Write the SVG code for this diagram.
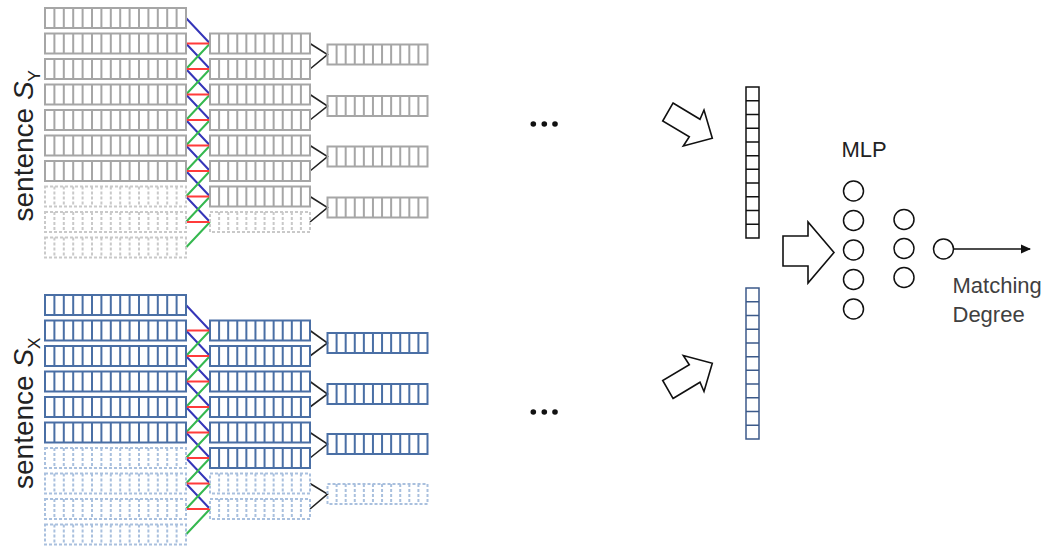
<svg xmlns="http://www.w3.org/2000/svg" xmlns:xlink="http://www.w3.org/1999/xlink" width="1050" height="547" viewBox="0 0 1050 547">
<style>
.cg{fill:none;stroke:#a6a6a6;stroke-width:2}
.cgd{fill:none;stroke:#c9c9c9;stroke-width:2;stroke-dasharray:3 2}
.cb{fill:none;stroke:#4a6fa5;stroke-width:2}
.cbd{fill:none;stroke:#a9c0de;stroke-width:2;stroke-dasharray:3 2}
.lb{fill:none;stroke:#3535b8;stroke-width:2}
.lr{fill:none;stroke:#ff3b3b;stroke-width:2}
.lg{fill:none;stroke:#35b84f;stroke-width:2}
.k{fill:none;stroke:#222;stroke-width:1.6}
.blk{fill:#fff;stroke:#111;stroke-width:1.6;stroke-linejoin:miter}
.neu{fill:#fff;stroke:#111;stroke-width:1.5}
.t{font-family:"Liberation Sans",Arial,sans-serif;fill:#222}
.dot{fill:#111}
</style>
<defs>
<path id="r15" d="M0,0H141V20H0Z M9.4,0V20 M18.8,0V20 M28.2,0V20 M37.6,0V20 M47,0V20 M56.4,0V20 M65.8,0V20 M75.2,0V20 M84.6,0V20 M94,0V20 M103.4,0V20 M112.8,0V20 M122.2,0V20 M131.6,0V20"/>
<path id="r11" d="M0,0H100V20H0Z M9.09,0V20 M18.18,0V20 M27.27,0V20 M36.36,0V20 M45.45,0V20 M54.55,0V20 M63.64,0V20 M72.73,0V20 M81.82,0V20 M90.91,0V20"/>
<path id="vec" d="M0,0H13V151H0Z M0,13.73H13 M0,27.45H13 M0,41.18H13 M0,54.91H13 M0,68.64H13 M0,82.36H13 M0,96.09H13 M0,109.82H13 M0,123.55H13 M0,137.27H13"/>
<polygon id="bigarrow" points="673,103 700,119.3 704,110 712.3,138.3 683.3,146 689.3,136.7 662.7,121"/>
<marker id="ah" markerWidth="10" markerHeight="10" refX="9" refY="5" orient="auto" markerUnits="userSpaceOnUse">
<path d="M0,0.5L10,5L0,9.5Z" fill="#111"/>
</marker>
</defs>
<rect width="1050" height="547" fill="#fff"/>

<g id="connectors">
<path class="lb" d="M186,18L210,43.5M186,43.5L210,69M186,69L210,94.5M186,94.5L210,120M186,120L210,145.5M186,145.5L210,171M186,171L210,196.5M186,196.5L210,222"/>
<path class="lg" d="M186,69L210,43.5M186,94.5L210,69M186,120L210,94.5M186,145.5L210,120M186,171L210,145.5M186,196.5L210,171M186,222L210,196.5M186,247.5L210,222"/>
<path class="lr" d="M186,43.5H210M186,69H210M186,94.5H210M186,120H210M186,145.5H210M186,171H210M186,196.5H210M186,222H210"/>
<path class="lb" d="M186,305L210,330.5M186,330.5L210,356M186,356L210,381.5M186,381.5L210,407M186,407L210,432.5M186,432.5L210,458M186,458L210,483.5M186,483.5L210,509"/>
<path class="lg" d="M186,356L210,330.5M186,381.5L210,356M186,407L210,381.5M186,432.5L210,407M186,458L210,432.5M186,483.5L210,458M186,509L210,483.5M186,534.5L210,509"/>
<path class="lr" d="M186,330.5H210M186,356H210M186,381.5H210M186,407H210M186,432.5H210M186,458H210M186,483.5H210M186,509H210"/>
<path class="k" d="M310,43.5L327.5,54.5L310,69 M310,94.5L327.5,106L310,120 M310,145.5L327.5,156.5L310,171 M310,196.5L327.5,207.5L310,222"/>
<path class="k" d="M310,330.5L327.5,343L310,356 M310,381.5L327.5,394L310,407 M310,432.5L327.5,444L310,458 M310,483.5L327.5,494L310,509"/>
<line x1="954" y1="249" x2="1030" y2="249" stroke="#111" stroke-width="1.5" marker-end="url(#ah)"/>
</g>

<g id="sy-input">
<g id="sy-in-1"><use href="#r15" x="45" y="8" class="cg"/></g>
<g id="sy-in-2"><use href="#r15" x="45" y="33.5" class="cg"/></g>
<g id="sy-in-3"><use href="#r15" x="45" y="59" class="cg"/></g>
<g id="sy-in-4"><use href="#r15" x="45" y="84.5" class="cg"/></g>
<g id="sy-in-5"><use href="#r15" x="45" y="110" class="cg"/></g>
<g id="sy-in-6"><use href="#r15" x="45" y="135.5" class="cg"/></g>
<g id="sy-in-7"><use href="#r15" x="45" y="161" class="cg"/></g>
<g id="sy-in-8"><use href="#r15" x="45" y="186.5" class="cgd"/></g>
<g id="sy-in-9"><use href="#r15" x="45" y="212" class="cgd"/></g>
<g id="sy-in-10"><use href="#r15" x="45" y="237.5" class="cgd"/></g>
</g>
<g id="sy-conv">
<g id="sy-c-1"><use href="#r11" x="210" y="33.5" class="cg"/></g>
<g id="sy-c-2"><use href="#r11" x="210" y="59" class="cg"/></g>
<g id="sy-c-3"><use href="#r11" x="210" y="84.5" class="cg"/></g>
<g id="sy-c-4"><use href="#r11" x="210" y="110" class="cg"/></g>
<g id="sy-c-5"><use href="#r11" x="210" y="135.5" class="cg"/></g>
<g id="sy-c-6"><use href="#r11" x="210" y="161" class="cg"/></g>
<g id="sy-c-7"><use href="#r11" x="210" y="186.5" class="cg"/></g>
<g id="sy-c-8"><use href="#r11" x="210" y="212" class="cgd"/></g>
</g>
<g id="sy-pool">
<g id="sy-p-1"><use href="#r11" x="327.5" y="44.5" class="cg"/></g>
<g id="sy-p-2"><use href="#r11" x="327.5" y="96" class="cg"/></g>
<g id="sy-p-3"><use href="#r11" x="327.5" y="146.5" class="cg"/></g>
<g id="sy-p-4"><use href="#r11" x="327.5" y="197.5" class="cg"/></g>
</g>

<g id="sx-input">
<g id="sx-in-1"><use href="#r15" x="45" y="295" class="cb"/></g>
<g id="sx-in-2"><use href="#r15" x="45" y="320.5" class="cb"/></g>
<g id="sx-in-3"><use href="#r15" x="45" y="346" class="cb"/></g>
<g id="sx-in-4"><use href="#r15" x="45" y="371.5" class="cb"/></g>
<g id="sx-in-5"><use href="#r15" x="45" y="397" class="cb"/></g>
<g id="sx-in-6"><use href="#r15" x="45" y="422.5" class="cb"/></g>
<g id="sx-in-7"><use href="#r15" x="45" y="448" class="cbd"/></g>
<g id="sx-in-8"><use href="#r15" x="45" y="473.5" class="cbd"/></g>
<g id="sx-in-9"><use href="#r15" x="45" y="499" class="cbd"/></g>
<g id="sx-in-10"><use href="#r15" x="45" y="524.5" class="cbd"/></g>
</g>
<g id="sx-conv">
<g id="sx-c-1"><use href="#r11" x="210" y="320.5" class="cb"/></g>
<g id="sx-c-2"><use href="#r11" x="210" y="346" class="cb"/></g>
<g id="sx-c-3"><use href="#r11" x="210" y="371.5" class="cb"/></g>
<g id="sx-c-4"><use href="#r11" x="210" y="397" class="cb"/></g>
<g id="sx-c-5"><use href="#r11" x="210" y="422.5" class="cb"/></g>
<g id="sx-c-6"><use href="#r11" x="210" y="448" class="cb"/></g>
<g id="sx-c-7"><use href="#r11" x="210" y="473.5" class="cbd"/></g>
<g id="sx-c-8"><use href="#r11" x="210" y="499" class="cbd"/></g>
</g>
<g id="sx-pool">
<g id="sx-p-1"><use href="#r11" x="327.5" y="333" class="cb"/></g>
<g id="sx-p-2"><use href="#r11" x="327.5" y="384" class="cb"/></g>
<g id="sx-p-3"><use href="#r11" x="327.5" y="434" class="cb"/></g>
<g id="sx-p-4"><use href="#r11" x="327.5" y="484" class="cbd"/></g>
</g>

<g id="label-sy"><text class="t" font-size="28" transform="translate(33,221.5) rotate(-90)">sentence <tspan font-style="italic">S</tspan><tspan font-size="17" dy="7">Y</tspan></text></g>
<g id="label-sx"><text class="t" font-size="28" transform="translate(33,489) rotate(-90)">sentence <tspan font-style="italic">S</tspan><tspan font-size="17" dy="7">X</tspan></text></g>

<g id="ellipsis-top"><circle class="dot" cx="533.3" cy="124" r="2.8"/><circle class="dot" cx="544.3" cy="124" r="2.8"/><circle class="dot" cx="555" cy="124" r="2.8"/></g>
<g id="ellipsis-bottom"><circle class="dot" cx="533.3" cy="412" r="2.8"/><circle class="dot" cx="544.3" cy="412" r="2.8"/><circle class="dot" cx="555" cy="412" r="2.8"/></g>

<g id="arrow-top"><use href="#bigarrow" class="blk"/></g>
<g id="arrow-bottom"><use href="#bigarrow" class="blk" transform="translate(0,501.5) scale(1,-1)"/></g>
<g id="arrow-mid"><polygon class="blk" points="783,236 808,236 808,222 834,252.5 808,283 808,266 783,266"/></g>

<g id="vec-y"><use href="#vec" x="746" y="87" fill="#fff" stroke="#111" stroke-width="1.5"/></g>
<g id="vec-x"><use href="#vec" x="746" y="288" fill="#fff" stroke="#3c5a8a" stroke-width="1.5"/></g>

<g id="mlp">
<text class="t" x="841.5" y="157.3" font-size="22">MLP</text>
<circle class="neu" cx="853.5" cy="191" r="10"/>
<circle class="neu" cx="853.5" cy="220.5" r="10"/>
<circle class="neu" cx="853.5" cy="250" r="10"/>
<circle class="neu" cx="853.5" cy="279.5" r="10"/>
<circle class="neu" cx="853.5" cy="309" r="10"/>
<circle class="neu" cx="904" cy="219.5" r="10"/>
<circle class="neu" cx="904" cy="248.5" r="10"/>
<circle class="neu" cx="904" cy="277.5" r="10"/>
</g>
<g id="output">
<circle class="neu" cx="943.5" cy="249" r="10"/>
<text class="t" x="952.5" y="293.3" font-size="22" style="fill:#404040">Matching</text>
<text class="t" x="952.5" y="321.7" font-size="22" style="fill:#404040">Degree</text>
</g>
</svg>
